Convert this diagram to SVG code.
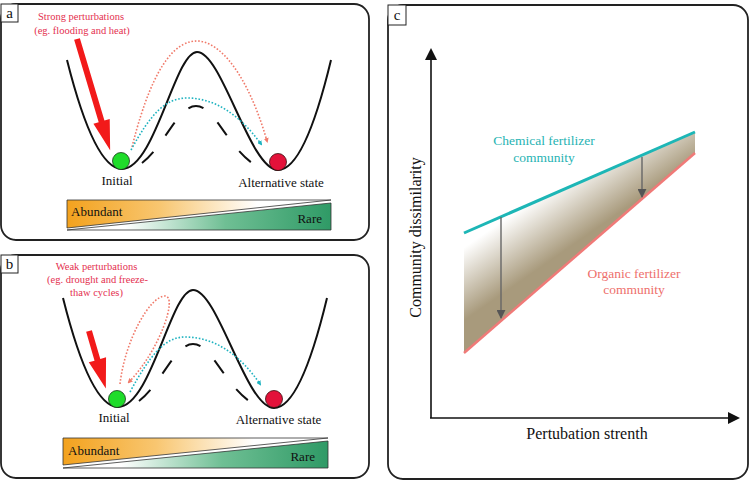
<svg xmlns="http://www.w3.org/2000/svg" width="750" height="481" viewBox="0 0 750 481">
<style>
  text { font-family: "Liberation Serif", "Times New Roman", serif; }
  .panel { fill: #fff; stroke: #222; stroke-width: 1.8; }
  .tag { fill: #fff; stroke: #222; stroke-width: 1; }
  .tagt { font-size: 15px; fill: #111; text-anchor: middle; }
  .land { fill: none; stroke: #111; stroke-width: 2; }
  .dash { fill: none; stroke: #111; stroke-width: 2; stroke-dasharray: 16 20; }
  .lbl { font-size: 13px; fill: #111; text-anchor: middle; }
  .bar { font-size: 13px; fill: #111; }
  .pert { font-size: 10.5px; fill: #e4304f; text-anchor: middle; }
  .dsal { fill: none; stroke: #f07a6a; stroke-width: 1.6; stroke-dasharray: 1.6 1.8; }
  .dteal { fill: none; stroke: #1fb3c0; stroke-width: 1.6; stroke-dasharray: 1.6 1.8; }
  .big { fill: #f21a1a; }
  .tri { stroke: #333; stroke-width: 0.8; }
  .axis { fill: none; stroke: #111; stroke-width: 1.6; }
  .garrow { fill: none; stroke: #666; stroke-width: 1.4; }
</style>
<defs>
  <marker id="mSal" viewBox="0 0 10 10" refX="6" refY="5" markerWidth="5" markerHeight="5" orient="auto" markerUnits="userSpaceOnUse">
    <path d="M0,0 L10,5 L0,10 Z" fill="#f07a6a"/>
  </marker>
  <marker id="mTeal" viewBox="0 0 10 10" refX="6" refY="5" markerWidth="5" markerHeight="5" orient="auto" markerUnits="userSpaceOnUse">
    <path d="M0,0 L10,5 L0,10 Z" fill="#1fb3c0"/>
  </marker>
  <marker id="mGray" viewBox="0 0 10 10" refX="9" refY="5" markerWidth="9" markerHeight="9" orient="auto" markerUnits="userSpaceOnUse">
    <path d="M0,0 L10,5 L0,10 Z" fill="#555"/>
  </marker>
  <linearGradient id="gOrange" x1="0" y1="0" x2="1" y2="0">
    <stop offset="0" stop-color="#f3a21e"/>
    <stop offset="0.35" stop-color="#f8c670"/>
    <stop offset="0.72" stop-color="#ffffff"/>
  </linearGradient>
  <linearGradient id="gGreen" x1="0" y1="0" x2="1" y2="0">
    <stop offset="0.22" stop-color="#ffffff"/>
    <stop offset="0.6" stop-color="#6fbf94"/>
    <stop offset="1" stop-color="#2f9a66"/>
  </linearGradient>
  <linearGradient id="gTan" gradientUnits="userSpaceOnUse" x1="464" y1="233" x2="521" y2="315">
    <stop offset="0.12" stop-color="#ffffff"/>
    <stop offset="0.72" stop-color="#a89a7c"/>
  </linearGradient>
  <path id="landscape" d="M67,60 Q94.5,169 122,169 C155,169 175,52 197,52 C222,52 250,170 278,170 Q304.5,170 331,60"/>
  <path id="dashes" d="M142,163 C165,145 178,106 196,106 C214,106 227,145 252,163"/>
</defs>

<!-- Panel a -->
<g id="panel-a">
  <rect class="panel" x="1" y="4" width="368" height="236" rx="15"/>
  <rect class="tag" x="1" y="4" width="17" height="18"/>
  <text class="tagt" x="9.5" y="18">a</text>
  <use href="#landscape" class="land"/>
  <use href="#dashes" class="dash" pathLength="160"/>
  <text class="pert" x="81" y="20">Strong perturbations</text>
  <text class="pert" x="82" y="34">(eg. flooding and heat)</text>
  <path class="big" transform="translate(77,39) rotate(-16.6)" d="M-3,0 L3,0 L3,86 L8.5,86 L0,116 L-8.5,86 L-3,86 Z"/>
  <circle cx="121" cy="161" r="8.5" fill="#1fdc2a" stroke="#1a3a1a" stroke-width="0.8"/>
  <circle cx="278" cy="162" r="8.5" fill="#e3123a" stroke="#3a1010" stroke-width="0.8"/>
  <text class="lbl" x="117" y="185">Initial</text>
  <text class="lbl" x="281" y="187">Alternative state</text>
  <polygon class="tri" points="67,200 331,200 67,228" fill="url(#gOrange)"/>
  <polygon class="tri" points="67,230 331,203 331,230" fill="url(#gGreen)"/>
  <text class="bar" x="71" y="216">Abundant</text>
  <text class="bar" x="322" y="223" text-anchor="end">Rare</text>
</g>

<!-- Panel b -->
<g id="panel-b">
  <rect class="panel" x="1" y="255" width="368" height="223" rx="15"/>
  <rect class="tag" x="1" y="255" width="17" height="18"/>
  <text class="tagt" x="9.5" y="269">b</text>
  <use href="#landscape" class="land" transform="translate(-4,238)"/>
  <use href="#dashes" class="dash" pathLength="160" transform="translate(-3,238)"/>
  <text class="pert" x="96.5" y="270">Weak perturbations</text>
  <text class="pert" x="97.5" y="283">(eg. drought and freeze-</text>
  <text class="pert" x="96.5" y="296">thaw cycles)</text>
  <path class="big" transform="translate(89,331) rotate(-16.3)" d="M-3,0 L3,0 L3,30 L9,30 L0,60 L-9,30 L-3,30 Z"/>
  <circle cx="117" cy="399" r="8.5" fill="#1fdc2a" stroke="#1a3a1a" stroke-width="0.8"/>
  <circle cx="274" cy="399" r="8.5" fill="#e3123a" stroke="#3a1010" stroke-width="0.8"/>
  <text class="lbl" x="114" y="422">Initial</text>
  <text class="lbl" x="278.5" y="424">Alternative state</text>
  <polygon class="tri" points="63,438 328,438 63,465" fill="url(#gOrange)"/>
  <polygon class="tri" points="63,468 328,441 328,468" fill="url(#gGreen)"/>
  <text class="bar" x="68" y="455">Abundant</text>
  <text class="bar" x="315" y="461" text-anchor="end">Rare</text>
</g>

<!-- Panel c -->
<g id="panel-c">
  <rect class="panel" x="388" y="5" width="360" height="474" rx="15"/>
  <rect class="tag" x="388" y="5" width="18" height="20"/>
  <text class="tagt" x="397" y="20">c</text>
  <polygon points="464,233 695,132 695,153 464,353" fill="url(#gTan)"/>
  <line x1="464" y1="233" x2="695" y2="132" stroke="#1db6b6" stroke-width="3"/>
  <line x1="464" y1="353" x2="695" y2="153" stroke="#f07a78" stroke-width="2.5"/>
  <text x="544" y="145" font-size="13.5" fill="#1fb3b3" text-anchor="middle">Chemical fertilizer</text>
  <text x="544" y="162" font-size="13.5" fill="#1fb3b3" text-anchor="middle">community</text>
  <text x="634" y="278" font-size="13.5" fill="#ee6f6c" text-anchor="middle">Organic fertilizer</text>
  <text x="634" y="294" font-size="13.5" fill="#ee6f6c" text-anchor="middle">community</text>
  <text x="587" y="439" font-size="16" fill="#111" text-anchor="middle">Pertubation strenth</text>
  <text transform="translate(421,237.5) rotate(-90)" font-size="16" fill="#111" text-anchor="middle">Community dissimilarity</text>
</g>

<!-- Connectors -->
<g id="connectors">
  <path class="dsal" d="M132,147 C155,55 180,41 197,41 C220,41 248,75 267,141" marker-end="url(#mSal)"/>
  <path class="dteal" d="M131,150 C150,115 165,98 187,98 C215,98 240,115 261,144" marker-end="url(#mTeal)"/>
  <path class="dsal" d="M120,384 C125,340 150,296 165,296 C178,296 160,350 129,382" marker-end="url(#mSal)"/>
  <path class="dteal" d="M130,392 C150,355 165,337 185,337 C215,337 240,355 260,384" marker-end="url(#mTeal)"/>
  <line class="axis" x1="431" y1="418" x2="431" y2="58"/>
  <polygon points="431,48 425,60 437,60" fill="#111"/>
  <line class="axis" x1="430" y1="418" x2="730" y2="418"/>
  <polygon points="740,418 728,412 728,424" fill="#111"/>
  <line class="garrow" x1="501" y1="217" x2="501" y2="318" marker-end="url(#mGray)"/>
  <line class="garrow" x1="642" y1="157" x2="642" y2="197" marker-end="url(#mGray)"/>
</g>
</svg>
